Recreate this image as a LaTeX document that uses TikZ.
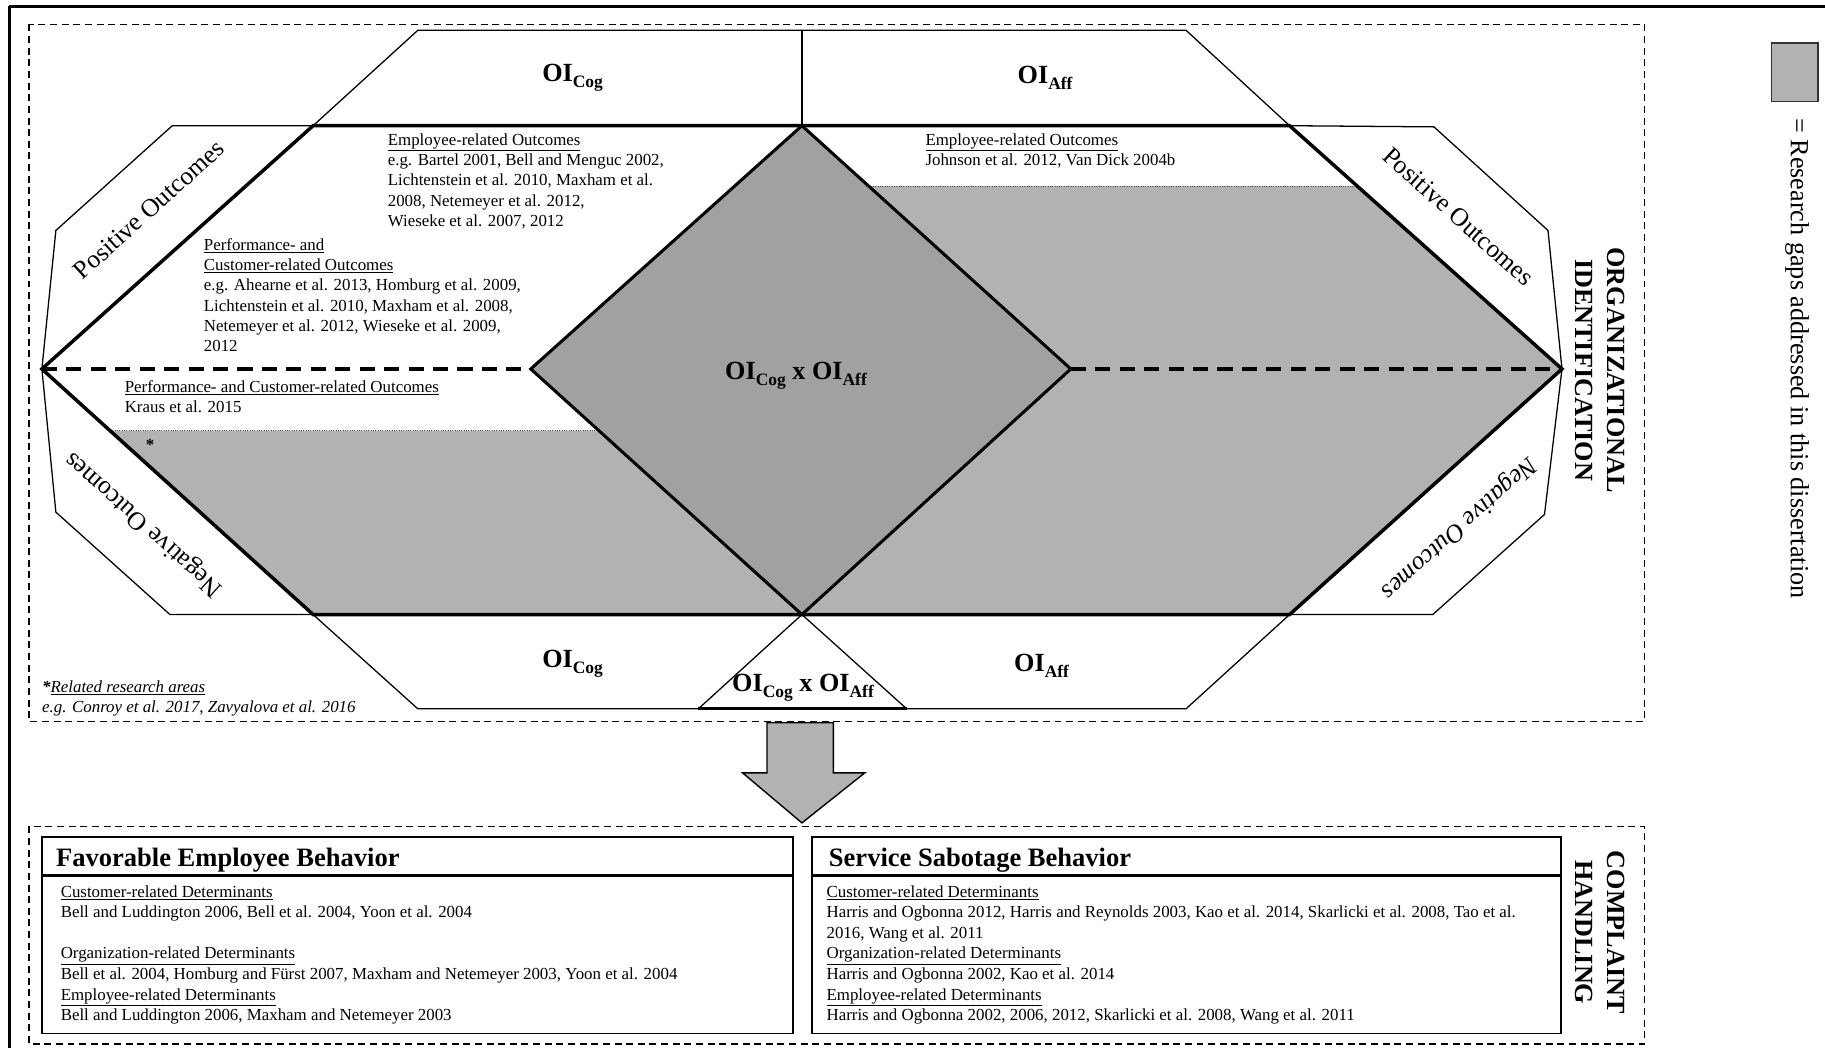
\documentclass[tikz,border=0pt]{standalone}
\usepackage{fontspec}
\setmainfont{Liberation Serif}
\usetikzlibrary{calc}
% OI label with a lowered subscript
\newcommand{\OIlbl}[1]{\textbf{OI}\raisebox{-5pt}{\fontsize{15}{15}\selectfont\textbf{#1}}}
\definecolor{gapgray}{gray}{0.70}
\definecolor{coregray}{gray}{0.63}
\begin{document}
\begin{tikzpicture}[x=1pt,y=-1pt,
  thickline/.style={line width=3pt, line join=miter},
  thinline/.style={line width=1.1pt, line join=miter},
  boxdash/.style={line width=1.1pt, dash pattern=on 6pt off 4pt},
  middash/.style={line width=3pt, dash pattern=on 13pt off 8pt},
  dotline/.style={line width=0.8pt, dash pattern=on 0.8pt off 1.2pt, black!70},
  body/.style={font=\fontsize{14.5}{17.5}\selectfont, inner sep=0pt, anchor=north west, align=left},
  boxbody/.style={font=\fontsize{14.5}{17.7}\selectfont, inner sep=0pt, anchor=north west, align=left},
  oi/.style={font=\fontsize{22.5}{22.5}\selectfont, inner sep=0pt},
  tabtext/.style={font=\fontsize{22}{22}\selectfont, inner sep=0pt},
  sidelabel/.style={font=\bfseries\fontsize{22.5}{27.5}\selectfont, inner sep=0pt, align=center, rotate=-90},
  boxtitle/.style={font=\bfseries\fontsize{22.8}{22.8}\selectfont, inner sep=0pt, anchor=base west}
]
\useasboundingbox (0,0) rectangle (1568,900);

% key points of the identification hexagon
\coordinate (L) at (36,317);
\coordinate (R) at (1342,317);
\coordinate (TL) at (269,108);
\coordinate (TR) at (1108,108);
\coordinate (BL) at (269,528);
\coordinate (BR) at (1108,528);
\coordinate (DT) at (689,108);
\coordinate (DL) at (456,317);
\coordinate (DR) at (920,317);
\coordinate (DB) at (689,528);

% outer frame (top and left rules)
\draw[line width=2.5pt] (8,5.5) -- (1568,5.5);
\draw[line width=2.5pt] (8,5.5) -- (8,900);

% dashed group boxes
\draw[boxdash] (25,21) rectangle (1413,620);
\draw[boxdash] (25,710) rectangle (1413,897);

% shaded research-gap regions
\fill[gapgray] (94.5,370) -- (514,370) -- (DB) -- (BL) -- cycle;
\fill[gapgray] (744,160) -- (1166,160) -- (R) -- (BR) -- (DB) -- (DR) -- cycle;
\fill[coregray] (DT) -- (DR) -- (DB) -- (DL) -- cycle;

% dotted borders of the shaded regions
\draw[dotline] (94.5,370) -- (514,370);
\draw[dotline] (744,160) -- (1166,160);

% top band
\draw[thinline] (TL) -- (359,26) -- (1019,26) -- (TR);
\draw[line width=2pt] (689,26) -- (DT);
% bottom band and triangle
\draw[thinline] (BL) -- (359,609) -- (1019,609) -- (BR);
\draw[thinline] (DB) -- (600,609);
\draw[thinline] (DB) -- (779,609);
\draw[line width=2.5pt] (600,609) -- (779,609);

% outcome tabs
\draw[thinline] (TL) -- (148,108) -- (48,198) -- (L);
\draw[thinline] (L) -- (48,440) -- (146,528) -- (BL);
\draw[thinline] (TR) -- (1232,109) -- (1330,198) -- (R);
\draw[thinline] (R) -- (1327,442) -- (1231,528) -- (BR);

% dashed axis
\draw[middash] (L) -- (DL);
\draw[middash] (DR) -- (R);

% main outline and interaction diamond
\draw[thickline] (L) -- (TL) -- (TR) -- (R) -- (BR) -- (BL) -- cycle;
\draw[line width=2.6pt, line join=miter] (DT) -- (DR) -- (DB) -- (DL) -- cycle;

% OI labels
\node[oi] (cogtop) at (492,67) {\OIlbl{Cog}};
\node[oi] (afftop) at (898,67) {\OIlbl{Aff}};
\node[oi] (cogbot) at (492,570) {\OIlbl{Cog}};
\node[oi] (affbot) at (895,572) {\OIlbl{Aff}};
\node[oi] (inter) at (684,323) {\OIlbl{Cog} \textbf{x} \OIlbl{Aff}};
\node[oi] (interbot) at (690,591) {\OIlbl{Cog} \textbf{x} \OIlbl{Aff}};

% tab labels
\node[tabtext, rotate=42] (posl) at (128,180) {Positive Outcomes};
\node[tabtext, rotate=-42] (posr) at (1253,186) {Positive Outcomes};
\node[tabtext, rotate=138] (negl) at (124,450) {Negative Outcomes};
\node[tabtext, rotate=-138] (negr) at (1253,453) {\itshape Negative Outcomes};

% literature notes
\node[body] (emp) at (333,114.5) {\underline{Employee-related Outcomes}\\
e.g. Bartel 2001, Bell and Menguc 2002,\\
Lichtenstein et al. 2010, Maxham et al.\\
2008, Netemeyer et al. 2012,\\
Wieseke et al. 2007, 2012};
\node[body] (perf) at (175,204.5) {\underline{Performance- and}\\
\underline{Customer-related Outcomes}\\
e.g. Ahearne et al. 2013, Homburg et al. 2009,\\
Lichtenstein et al. 2010, Maxham et al. 2008,\\
Netemeyer et al. 2012, Wieseke et al. 2009,\\
2012};
\node[body] (kraus) at (107,326.5) {\underline{Performance- and Customer-related Outcomes}\\
Kraus et al. 2015};
\node[body] (empaff) at (795,114.5) {\underline{Employee-related Outcomes}\\
Johnson et al. 2012, Van Dick 2004b};
\node[font=\bfseries\fontsize{14.5}{14.5}\selectfont, inner sep=0pt] (star) at (129,382) {*};
\node[body, font=\itshape\fontsize{14.5}{17.5}\selectfont] (related) at (36,584.5) {\textbf{*}\underline{Related research areas}\\
e.g. Conroy et al. 2017, Zavyalova et al. 2016};

% side labels and legend
\node[sidelabel] (oilabel) at (1375,318) {ORGANIZATIONAL\\IDENTIFICATION};
\node[sidelabel] (chlabel) at (1375,801) {COMPLAINT\\HANDLING};
\draw[line width=1pt, fill=gapgray, draw=black!80] (1522,37) rectangle (1562,87);
\node[font=\fontsize{22.5}{22.5}\selectfont, inner sep=0pt, rotate=-90] (legend) at (1544,308) {= Research gaps addressed in this dissertation};

% block arrow
\draw[line width=1.2pt, fill=gapgray, line join=miter] (659,621) -- (716,621) -- (716,664) -- (743,664) -- (689,707) -- (638,664) -- (659,664) -- cycle;

% complaint handling boxes
\draw[line width=1.5pt] (36,719) rectangle (681,888);
\draw[line width=3pt] (36,752) -- (681,752);
\draw[line width=1.5pt] (697.5,719) rectangle (1341,888);
\draw[line width=3pt] (697.5,752) -- (1341,752);

\node[boxtitle] (favt) at (48,744.5) {Favorable Employee Behavior};
\node[boxtitle] (sabt) at (712,744.5) {Service Sabotage Behavior};

\node[boxbody] (favb) at (52,760.5) {\underline{Customer-related Determinants}\\
Bell and Luddington 2006, Bell et al. 2004, Yoon et al. 2004\\
\mbox{}\\
\underline{Organization-related Determinants}\\
Bell et al. 2004, Homburg and Fürst 2007, Maxham and Netemeyer 2003, Yoon et al. 2004\\
\underline{Employee-related Determinants}\\
Bell and Luddington 2006, Maxham and Netemeyer 2003};
\node[boxbody] (sabb) at (710,760.5) {\underline{Customer-related Determinants}\\
Harris and Ogbonna 2012, Harris and Reynolds 2003, Kao et al. 2014, Skarlicki et al. 2008, Tao et al.\\
2016, Wang et al. 2011\\
\underline{Organization-related Determinants}\\
Harris and Ogbonna 2002, Kao et al. 2014\\
\underline{Employee-related Determinants}\\
Harris and Ogbonna 2002, 2006, 2012, Skarlicki et al. 2008, Wang et al. 2011};
\end{tikzpicture}
\end{document}
